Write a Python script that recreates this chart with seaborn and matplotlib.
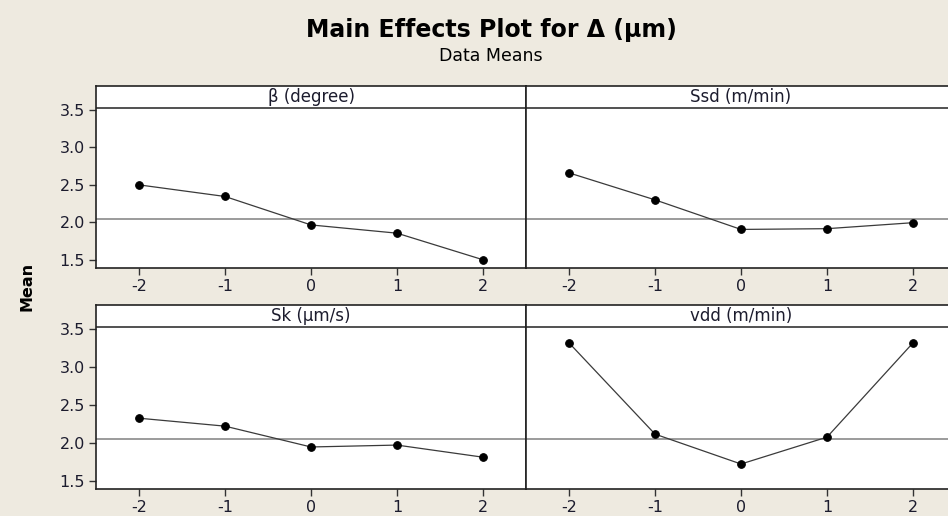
import numpy as np
import pandas as pd
import matplotlib
matplotlib.use("Agg")
import matplotlib.pyplot as plt
import seaborn as sns

levels = [-2, -1, 0, 1, 2]
beta_means = [2.50, 2.345, 1.965, 1.855, 1.50]
ssd_means = [2.66, 2.30, 1.905, 1.915, 1.995]
sk_means = [2.325, 2.22, 1.945, 1.97, 1.81]
vdd_means = [3.32, 2.115, 1.72, 2.075, 3.32]
panel_titles = ["β (degree)", "Ssd (m/min)", "Sk (µm/s)", "vdd (m/min)"]
grand_mean = 2.045
yticks = [1.5, 2.0, 2.5, 3.0, 3.5]

sns.set_style("white")
plt.rcParams['font.family'] = ['DejaVu Sans']

bg = "#EEEAE0"
txt = "#1c1c2e"
fig = plt.figure(figsize=(9.48, 5.16), dpi=100, facecolor=bg)

W, H = 948.0, 516.0
def pos(x0, y0, x1, y1):
    return [x0 / W, 1 - y1 / H, (x1 - x0) / W, (y1 - y0) / H]

boxes = [pos(96, 86, 526, 268), pos(526, 86, 956, 268),
         pos(96, 305, 526, 489), pos(526, 305, 956, 489)]
series = [beta_means, ssd_means, sk_means, vdd_means]

ylo, ystrip, yhi = 1.39, 3.53, 3.82
for i, (box, vals, title) in enumerate(zip(boxes, series, panel_titles)):
    ax = fig.add_axes(box)
    ax.set_facecolor("white")
    df = pd.DataFrame({"level": levels, "mean": vals})
    ax.axhline(grand_mean, color="#8a8a8a", lw=1.2, zorder=1)
    sns.lineplot(data=df, x="level", y="mean", ax=ax, color="#3a3a3a", lw=0.9,
                 marker="o", markersize=5.5, markerfacecolor="black",
                 markeredgecolor="black", zorder=3)
    ax.set_xlim(-2.5, 2.5)
    ax.set_ylim(ylo, yhi)
    ax.axhline(ystrip, color="#333333", lw=1.2, zorder=2)
    ax.text(0.0, (ystrip + yhi) / 2 - 0.005, title, ha="center", va="center",
            fontsize=12, color=txt)
    ax.set_xlabel("")
    ax.set_ylabel("")
    ax.set_xticks(levels)
    ax.set_xticklabels([str(v) for v in levels], fontsize=11.5, color=txt)
    ax.tick_params(axis="x", direction="out", length=5, width=1, color="#333333",
                   bottom=True, pad=3)
    if i % 2 == 0:
        ax.set_yticks(yticks)
        ax.set_yticklabels([f"{v:.1f}" for v in yticks], fontsize=11.5, color=txt)
        ax.tick_params(axis="y", direction="out", length=5, width=1,
                       color="#333333", left=True, pad=3)
    else:
        ax.set_yticks(yticks)
        ax.tick_params(axis="y", left=False, labelleft=False)
    for s in ax.spines.values():
        s.set_color("#222222")
        s.set_linewidth(1.2)
        s.set_visible(True)

fig.text(491 / W, 1 - 30 / H, "Main Effects Plot for Δ (µm)", ha="center",
         va="center", fontsize=17, fontweight="bold", color="black")
fig.text(491 / W, 1 - 56 / H, "Data Means", ha="center", va="center",
         fontsize=12.5, color="black")
fig.text(27 / W, 1 - 286 / H, "Mean", ha="center", va="center", rotation=90,
         fontsize=11.5, fontweight="bold", color="black")

fig.savefig("out.png", dpi=100, facecolor=bg)
